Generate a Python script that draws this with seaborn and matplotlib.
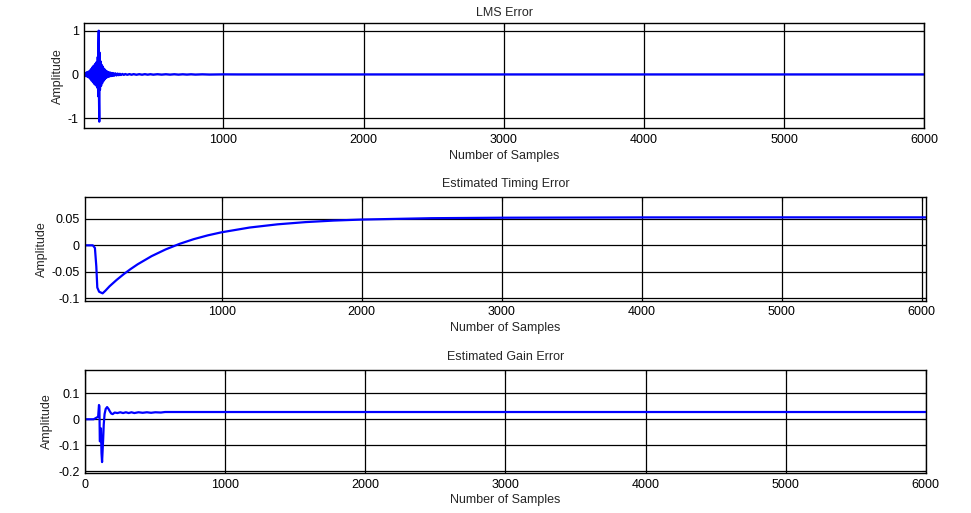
import numpy as np
import pandas as pd
import matplotlib
matplotlib.use("Agg")
import matplotlib.pyplot as plt
import seaborn as sns

# LMS error (sample index, amplitude)
lms_x = [1, 5, 10, 15, 20, 25, 30, 35, 40, 45, 50, 55, 60, 65, 70, 75, 80, 85,
         90, 95, 100, 104, 107, 109, 111, 113, 115, 117, 120, 124, 128, 132,
         136, 140, 145, 150, 155, 160, 165, 170, 175, 180, 186, 192, 198, 204,
         210, 216, 222, 230, 238, 246, 254, 262, 270, 280, 290, 300, 315, 330,
         345, 360, 380, 400, 420, 440, 460, 480, 500, 530, 560, 590, 620, 650,
         680, 710, 740, 770, 800, 850, 900, 1000, 1100, 6000]
lms_y = [0.0, 0.02, -0.03, 0.03, -0.04, 0.05, -0.05, 0.06, -0.07, 0.08, -0.1,
         0.12, -0.14, 0.16, -0.18, 0.2, -0.22, 0.24, -0.25, 0.28, -0.3, 0.4,
         -0.5, 0.7, 1.0, -0.6, -1.08, 0.5, -0.35, 0.3, -0.26, 0.22, -0.2, 0.18,
         -0.15, 0.13, -0.11, 0.09, -0.08, 0.07, -0.06, 0.055, -0.05, 0.045,
         -0.04, 0.035, -0.035, 0.03, -0.03, 0.026, -0.024, 0.02, -0.018,
         0.016, -0.014, 0.012, -0.011, 0.01, -0.009, 0.009, -0.008, 0.008,
         -0.008, 0.007, -0.007, 0.007, -0.006, 0.006, -0.006, 0.006, -0.005,
         0.005, -0.005, 0.005, -0.005, 0.004, -0.004, 0.004, -0.004, 0.003,
         -0.003, 0.002, 0.0, 0.0]

# estimated timing error
tim_x = [1, 80, 95, 105, 112, 125, 150, 170, 200, 250, 300, 350, 400, 500,
         600, 700, 800, 900, 1000, 1200, 1400, 1600, 1800, 2000, 2500, 3000,
         4000, 5000, 6030]
tim_y = [0.0, 0.0, -0.005, -0.04, -0.08, -0.088, -0.091, -0.086, -0.0775,
         -0.0656, -0.0548, -0.045, -0.036, -0.0205, -0.0078, 0.0028, 0.0116,
         0.0188, 0.0247, 0.0337, 0.0398, 0.044, 0.0469, 0.0488, 0.0514,
         0.0523, 0.0529, 0.053, 0.053]

# estimated gain error
gain_x = [0, 60, 70, 80, 92, 98, 101, 104, 108, 112, 116, 120, 124, 128, 132,
          138, 146, 156, 166, 176, 186, 196, 210, 230, 250, 270, 290, 310,
          330, 350, 380, 410, 440, 470, 500, 540, 570, 6000]
gain_y = [0.0, 0.0, 0.003, 0.006, 0.01, 0.055, 0.05, -0.085, -0.085, -0.035,
          -0.13, -0.165, -0.12, -0.075, -0.02, 0.02, 0.04, 0.047, 0.04, 0.03,
          0.022, 0.02, 0.026, 0.024, 0.027, 0.024, 0.027, 0.024, 0.027, 0.024,
          0.027, 0.025, 0.027, 0.025, 0.027, 0.026, 0.028, 0.028]

titles = ["LMS Error", "Estimated Timing Error", "Estimated Gain Error"]
xticks_top = [1000, 2000, 3000, 4000, 5000, 6000]
xticks_bottom = [0, 1000, 2000, 3000, 4000, 5000, 6000]

sns.set_style("white")
plt.rcParams['font.family'] = ['Liberation Sans', 'DejaVu Sans']
plt.rcParams['font.size'] = 9

fig = plt.figure(figsize=(9.71, 5.13), dpi=100)

panels = [
    # x, y, axes rect, xlim, ylim, xticks, yticks, yticklabels, ylabel x, title pad
    (lms_x, lms_y, [0.0868, 0.750, 0.8651, 0.2047], (8, 6000), (-1.23, 1.17),
     xticks_top, [-1, 0, 1], ["-1", "0", "1"], -0.031, 5),
    (tim_x, tim_y, [0.0878, 0.4138, 0.8655, 0.2016], (26, 6029), (-0.105, 0.091),
     xticks_top, [-0.1, -0.05, 0, 0.05], ["-0.1", "-0.05", "0", "0.05"], -0.052, 7.5),
    (gain_x, gain_y, [0.0878, 0.078, 0.8655, 0.2008], (0, 6000), (-0.207, 0.19),
     xticks_bottom, [-0.2, -0.1, 0, 0.1], ["-0.2", "-0.1", "0", "0.1"], -0.046, 7.5),
]

for i, (x, y, rect, xl, yl, xt, yt, ytl, ylx, tpad) in enumerate(panels):
    ax = fig.add_axes(rect)
    df = pd.DataFrame({"x": x, "y": y})
    sns.lineplot(data=df, x="x", y="y", ax=ax, color="#0000ff",
                 linewidth=1.6, estimator=None, sort=False)
    ax.set_xlim(*xl)
    ax.set_ylim(*yl)
    ax.set_xticks(xt)
    ax.set_xticklabels([str(t) for t in xt])
    ax.set_yticks(yt)
    ax.set_yticklabels(ytl)
    ax.grid(True, color="black", linewidth=0.9, linestyle="-")
    ax.tick_params(direction="in", length=3, width=0.8, top=True, right=True,
                   labelsize=9, pad=4, colors="black")
    for s in ax.spines.values():
        s.set_color("black")
        s.set_linewidth(1.0)
    ax.set_title(titles[i], fontsize=9, pad=tpad)
    ax.set_xlabel("Number of Samples", fontsize=9)
    ax.xaxis.set_label_coords(0.5, -0.265)
    ax.xaxis.label.set_va("center")
    ax.set_ylabel("Amplitude", fontsize=9)
    ax.yaxis.set_label_coords(ylx, 0.5)
    ax.yaxis.label.set_va("center")

fig.savefig("out.png", dpi=100)
